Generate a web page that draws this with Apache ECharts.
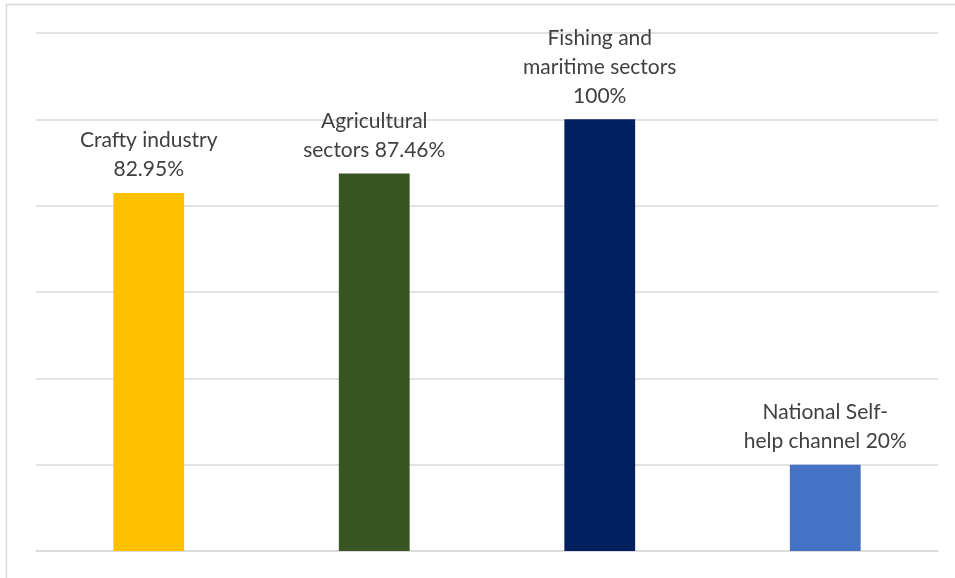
<!DOCTYPE html>
<html>
<head>
<meta charset="utf-8">
<script src="https://cdn.jsdelivr.net/npm/echarts@6/dist/echarts.min.js"></script>
<style>
html,body{margin:0;padding:0;background:#fff;}
#chart{width:955px;height:578px;}
</style>
</head>
<body>
<div id="chart"></div>
<script>
const categories = ["Crafty industry", "Agricultural sectors", "Fishing and maritime sectors", "National Self-help channel"];
const values = [82.95, 87.46, 100, 20];
const labels = ["Crafty industry\n82.95%", "Agricultural\nsectors 87.46%", "Fishing and\nmaritime sectors\n100%", "National Self-\nhelp channel 20%"];
const colors = ["#FFC000", "#375623", "#002060", "#4472C4"];
const yMin = 0, yMax = 120, yStep = 20;

const chart = echarts.init(document.getElementById('chart'));
chart.setOption({
  animation: false,
  backgroundColor: '#ffffff',
  graphic: [{
    type: 'rect',
    shape: {x: 6.5, y: 4.5, width: 1000, height: 1000},
    style: {fill: 'none', stroke: '#d9d9d9', lineWidth: 1.5},
    silent: true
  }],
  grid: {left: 36, right: 17, top: 33, bottom: 27},
  xAxis: {
    type: 'category',
    data: categories,
    axisLine: {show: true, lineStyle: {color: '#d9d9d9', width: 1.5}},
    axisTick: {show: false},
    axisLabel: {show: false}
  },
  yAxis: {
    type: 'value',
    min: yMin, max: yMax, interval: yStep,
    axisLine: {show: false},
    axisTick: {show: false},
    axisLabel: {show: false},
    splitLine: {lineStyle: {color: '#d9d9d9', width: 1.5}}
  },
  series: [{
    type: 'bar',
    barWidth: '31.4%',
    data: values.map((v, i) => ({
      value: v,
      itemStyle: {color: colors[i]},
      label: {formatter: labels[i]}
    })),
    label: {
      show: true,
      position: 'top',
      distance: 9,
      color: '#404040',
      fontFamily: 'Lato',
      fontSize: 21,
      lineHeight: 29,
      align: 'center'
    }
  }]
});
</script>
</body>
</html>
